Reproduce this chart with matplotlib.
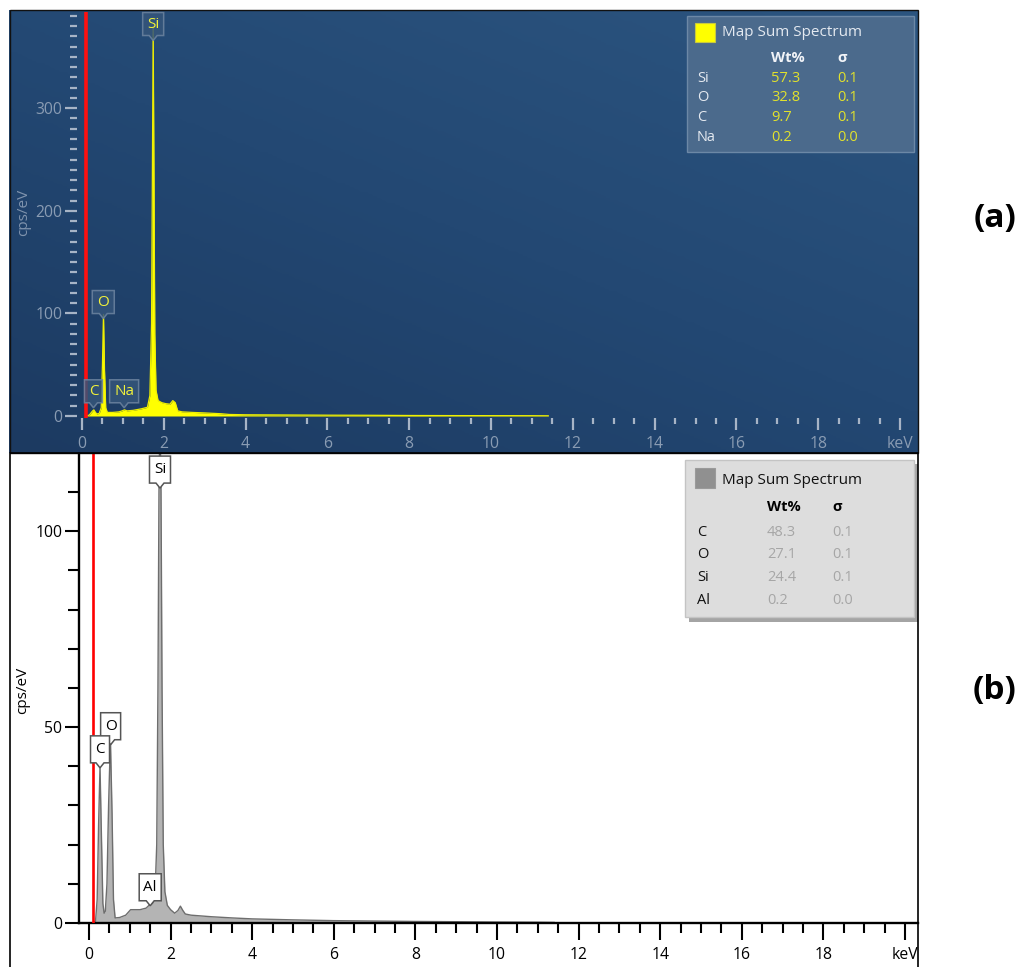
"""
EDS map sum spectra, two panels stacked: (a) dark theme, (b) light theme.
"""

import numpy as np
import matplotlib
matplotlib.use('Agg')
import matplotlib.pyplot as plt
from matplotlib import transforms
from matplotlib.colors import LinearSegmentedColormap
from matplotlib.patches import Polygon, Rectangle
from matplotlib.ticker import FixedLocator

# ---- data ----------------------------------------------------------------
# spectrum (a): energy in keV, counts in cps/eV
energy_a = [0.12, 0.18, 0.22, 0.26, 0.29, 0.32, 0.36, 0.42, 0.47, 0.50,
            0.525, 0.55, 0.58, 0.62, 0.75, 0.90, 0.98, 1.04, 1.10, 1.25,
            1.45, 1.60, 1.66, 1.70, 1.72, 1.74, 1.76, 1.78, 1.81, 1.86,
            1.95, 2.05, 2.15, 2.22, 2.28, 2.34, 2.45, 2.70, 3.00, 3.40,
            3.60, 4.00, 5.00, 6.00, 7.00, 8.00, 9.00, 10.0, 11.0, 11.4]
counts_a = [0.0, 1.0, 3.0, 5.0, 6.0, 4.0, 2.0, 2.5, 8.0, 50.0,
            99.0, 45.0, 8.0, 3.5, 3.5, 4.0, 5.0, 6.0, 5.0, 5.5,
            7.0, 8.5, 20.0, 90.0, 230.0, 380.0, 230.0, 80.0, 25.0, 15.0,
            13.0, 12.0, 11.5, 15.0, 13.0, 5.0, 4.0, 3.5, 3.0, 2.2,
            1.5, 1.2, 1.0, 0.8, 0.7, 0.5, 0.4, 0.35, 0.3, 0.2]

# spectrum (b)
energy_b = [0.12, 0.16, 0.20, 0.235, 0.27, 0.305, 0.34, 0.37, 0.40, 0.44,
            0.48, 0.525, 0.565, 0.60, 0.64, 0.75, 0.90, 1.02, 1.10, 1.25,
            1.40, 1.48, 1.56, 1.62, 1.66, 1.69, 1.715, 1.74, 1.765, 1.79,
            1.82, 1.86, 1.92, 2.00, 2.10, 2.18, 2.24, 2.30, 2.36, 2.50,
            3.00, 3.50, 4.00, 5.00, 6.00, 7.00, 8.00, 9.00, 10.0, 11.0, 11.4]
counts_b = [0.0, 0.5, 6.0, 25.0, 40.0, 22.0, 5.0, 2.5, 3.0, 10.0,
            30.0, 47.0, 28.0, 6.0, 1.3, 1.4, 2.0, 3.4, 3.4, 3.4,
            3.8, 4.6, 5.0, 8.0, 20.0, 60.0, 110.0, 130.0, 110.0, 60.0,
            20.0, 8.0, 4.5, 3.4, 2.5, 3.2, 4.3, 3.2, 2.3, 2.0,
            1.6, 1.3, 1.05, 0.8, 0.6, 0.5, 0.4, 0.33, 0.25, 0.2, 0.15]

# peak labels: element, energy (keV), height of the label tip (cps/eV)
peaks_a = ['Si', 'O', 'C', 'Na']
peak_x_a = [1.74, 0.52, 0.28, 1.03]
peak_y_a = [366, 95, 8, 8]

peaks_b = ['Si', 'O', 'C', 'Al']
peak_x_b = [1.74, 0.53, 0.27, 1.50]
peak_y_b = [111, 45.5, 39.6, 4.4]

# quantification tables
elements_a = ['Si', 'O', 'C', 'Na']
wt_a = ['57.3', '32.8', '9.7', '0.2']
sigma_a = ['0.1', '0.1', '0.1', '0.0']

elements_b = ['C', 'O', 'Si', 'Al']
wt_b = ['48.3', '27.1', '24.4', '0.2']
sigma_b = ['0.1', '0.1', '0.1', '0.0']

marker_kev = 0.11
x_ticks = list(range(0, 21, 2))
x_labels = [str(v) for v in range(0, 19, 2)] + ['keV']

W, H = 1028, 967


def px_axes(fig, left, top, right, bottom):
    """Add an axes from pixel coordinates (origin top left)."""
    return fig.add_axes([left / W, 1 - bottom / H, (right - left) / W, (bottom - top) / H])


def callout(fig, ax, x, y, text, w, h, fc, ec, tc, alpha=1.0):
    """Label box with a small pointer whose tip sits at (x, y) in data coords."""
    trans = fig.dpi_scale_trans + transforms.ScaledTranslation(x, y, ax.transData)
    d = 1 / 100.0
    p, ph = 4 * d, 5 * d
    w, h = w * d, h * d
    verts = [(0, 0), (-p, ph), (-w / 2, ph), (-w / 2, ph + h), (w / 2, ph + h),
             (w / 2, ph), (p, ph)]
    ax.add_patch(Polygon(verts, closed=True, transform=trans, fc=fc, ec=ec,
                         lw=1.1, alpha=alpha, zorder=6, clip_on=False))
    ax.text(0, ph + h / 2, text, transform=trans, ha='center', va='center',
            color=tc, fontsize=11, zorder=7)


def set_ticks(ax):
    ax.xaxis.set_major_locator(FixedLocator(x_ticks))
    ax.xaxis.set_minor_locator(FixedLocator([v for v in np.arange(0, 20.01, 0.5) if v % 2]))
    ax.set_xticklabels(x_labels)


def main():
    plt.rcParams['font.family'] = ['Open Sans', 'DejaVu Sans']
    fig = plt.figure(figsize=(W / 100, H / 100), dpi=100)

    # ---- panel backgrounds
    bg_a = px_axes(fig, 9, 10, 918, 453)
    g = np.linspace(0, 1, 200)
    gx, gy = np.meshgrid(g, g)
    cmap = LinearSegmentedColormap.from_list('bg', ['#1c3a61', '#234873', '#2c5580'])
    bg_a.imshow(0.45 * gx + 0.55 * gy, extent=[0, 1, 0, 1], origin='lower',
                aspect='auto', cmap=cmap)
    bg_a.set_axis_off()

    # ---- (a) dark spectrum
    ax = px_axes(fig, 77, 12, 915, 418)
    ax.patch.set_alpha(0)
    ax.set_xlim(-5 / 40.9, (915 - 82) / 40.9)
    ax.set_ylim(-1.95, 393.8)
    ax.fill_between(energy_a, counts_a, 0, color='#ffff00', lw=0, zorder=2)
    ax.plot(energy_a, counts_a, color='#f0f000', lw=0.9, zorder=2)
    ax.axvline(marker_kev, color='#ff1010', lw=2.6, zorder=3)
    for s in ax.spines.values():
        s.set_visible(False)
    set_ticks(ax)
    ax.yaxis.set_major_locator(FixedLocator([0, 100, 200, 300]))
    ax.yaxis.set_minor_locator(FixedLocator(range(10, 391, 10)))
    tc = '#a7b4c6'
    ax.tick_params(axis='x', which='major', length=8.6, width=1.6, pad=4,
                   color=tc, labelcolor='#8a9cb3', labelsize=11.3)
    ax.tick_params(axis='x', which='minor', length=4.3, width=1.6, color=tc)
    ax.tick_params(axis='y', which='major', length=8.6, width=1.6, pad=2,
                   color=tc, labelcolor='#8a9cb3', labelsize=11.3)
    ax.tick_params(axis='y', which='minor', length=5, width=1.6, color=tc)
    for name, x, y in zip(peaks_a, peak_x_a, peak_y_a):
        w = {'Si': 21, 'O': 22, 'C': 18, 'Na': 29}[name]
        callout(fig, ax, x, y, name, w, 23, '#35557a', '#6d84a0', '#f2f23a', alpha=0.85)

    # ---- (b) light spectrum
    bx = px_axes(fig, 79, 454, 918, 923)
    bx.patch.set_alpha(0)
    bx.set_xlim(-10 / 40.8, (918 - 89) / 40.8)
    bx.set_ylim(0, 119.7)
    bx.fill_between(energy_b, counts_b, 0, color='#b4b4b4', lw=0, zorder=2)
    bx.plot(energy_b, counts_b, color='#6e6e6e', lw=1.0, zorder=2)
    bx.axvline(marker_kev, color='#ff0000', lw=1.9, zorder=3)
    bx.spines['top'].set_visible(False)
    bx.spines['right'].set_visible(False)
    bx.spines['left'].set_linewidth(1.7)
    bx.spines['bottom'].set_linewidth(1.7)
    set_ticks(bx)
    bx.yaxis.set_major_locator(FixedLocator([0, 50, 100]))
    bx.yaxis.set_minor_locator(FixedLocator([v for v in range(10, 120, 10) if v % 50]))
    bx.tick_params(axis='x', which='major', length=12, width=1.5, pad=5, labelsize=11.3)
    bx.tick_params(axis='x', which='minor', length=7, width=1.5)
    bx.tick_params(axis='y', which='major', length=10, width=1.5, pad=2, labelsize=11.3)
    bx.tick_params(axis='y', which='minor', length=7.8, width=1.5)
    for name, x, y in zip(peaks_b, peak_x_b, peak_y_b):
        w = {'Si': 21, 'O': 20, 'C': 19, 'Al': 22}[name]
        callout(fig, bx, x, y, name, w, 27, 'white', '#555555', 'black')

    # ---- overlay in pixel coordinates: frames, legends, labels
    ov = fig.add_axes([0, 0, 1, 1])
    ov.set_xlim(0, W)
    ov.set_ylim(H, 0)
    ov.set_axis_off()
    ov.patch.set_alpha(0)
    ov.plot([9.5, 9.5, 918, 918], [967, 453, 453, 967], color='black', lw=1.2)
    ov.add_patch(Rectangle((9.5, 10), 908.5, 443, fill=False, ec='#111111', lw=1.0))

    ov.text(24, 212, 'cps/eV', rotation=90, ha='center', va='center',
            color='#7f93ad', fontsize=11)
    ov.text(23, 690, 'cps/eV', rotation=90, ha='center', va='center',
            color='black', fontsize=11)
    ov.text(995, 219, '(a)', ha='center', va='center', fontsize=24, fontweight='bold')
    ov.text(995, 691, '(b)', ha='center', va='center', fontsize=24, fontweight='bold')

    # legend (a)
    ov.add_patch(Rectangle((687, 16), 227, 136, fc='#4b6a8c', ec='#6c88a6', lw=1.0))
    ov.add_patch(Rectangle((695, 23), 20, 19, fc='#ffff00', ec='#c8c840', lw=0.8))
    ov.text(722, 33, 'Map Sum Spectrum', va='center', color='#e4e9f0', fontsize=11)
    ov.text(771, 58, 'Wt%', va='center', color='#f2f4f8', fontsize=10.5, fontweight='bold')
    ov.text(837, 58, 'σ', va='center', color='#f2f4f8', fontsize=10.5, fontweight='bold')
    for i, (el, wt, sg) in enumerate(zip(elements_a, wt_a, sigma_a)):
        y = 78 + i * 19.7
        ov.text(697, y, el, va='center', color='#e4e9f0', fontsize=10.5)
        ov.text(771, y, wt, va='center', color='#e2e22c', fontsize=10.5)
        ov.text(837, y, sg, va='center', color='#e2e22c', fontsize=10.5)

    # legend (b)
    ov.add_patch(Rectangle((689, 464), 229, 158, fc='#5a5a5a', ec='none', alpha=0.55))
    ov.add_patch(Rectangle((685, 460), 229, 157, fc='#dddddd', ec='#c4c4c4', lw=1.0))
    ov.add_patch(Rectangle((695, 468), 20, 20, fc='#909090', ec='#9a9a9a', lw=0.8))
    ov.text(722, 480, 'Map Sum Spectrum', va='center', color='#111111', fontsize=11)
    ov.text(767, 507, 'Wt%', va='center', color='black', fontsize=10.5, fontweight='bold')
    ov.text(832, 507, 'σ', va='center', color='black', fontsize=10.5, fontweight='bold')
    for i, (el, wt, sg) in enumerate(zip(elements_b, wt_b, sigma_b)):
        y = 532 + i * 22.7
        ov.text(697, y, el, va='center', color='#111111', fontsize=10.5)
        ov.text(767, y, wt, va='center', color='#a6a6a6', fontsize=10.5)
        ov.text(832, y, sg, va='center', color='#a6a6a6', fontsize=10.5)

    fig.savefig('out.png', dpi=100, facecolor='white')


if __name__ == '__main__':
    main()
